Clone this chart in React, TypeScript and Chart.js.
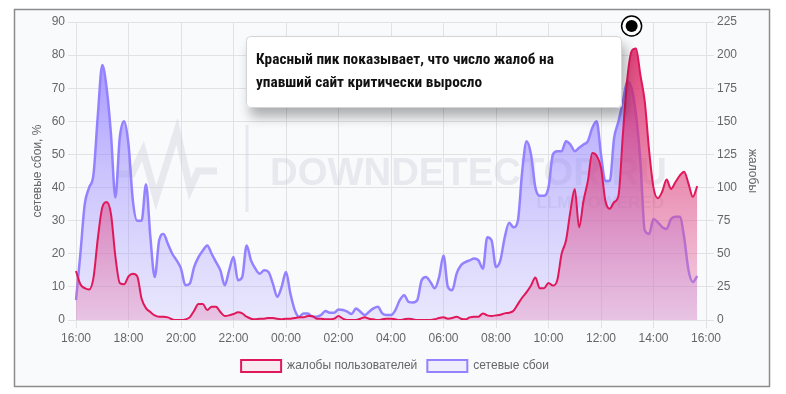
import React, { useEffect, useRef } from "react";
import { Chart, registerables } from "chart.js";

Chart.register(...registerables);

// ---- categories: 10-minute slots from 16:00 to 16:00 next day ----
const START_HOUR = 16;
const STEP_MIN = 10;
const SLOT_COUNT = 145;
const timeLabels: string[] = [];
for (let i = 0; i < SLOT_COUNT; i++) {
  const m = (START_HOUR * 60 + i * STEP_MIN) % 1440;
  timeLabels.push(
    `${String(Math.floor(m / 60)).padStart(2, "0")}:${String(m % 60).padStart(2, "0")}`
  );
}

// ---- network failures, % (left axis), 16:00 .. 15:40 ----
const networkFailures: (number | null)[] = [
  6, 20, 35, 40, 44, 62, // 16
  77, 70, 56, 37, 55, 60, // 17
  53, 36, 30, 30, 41, 25, // 18
  13, 24, 26, 23, 20, 18, // 19
  15.5, 10.5, 11, 16, 19, 21, // 20
  22.5, 20, 17.5, 15, 10.5, 15, // 21
  19, 12, 13, 22.5, 18, 15.5, // 22
  14, 15, 14.5, 11, 7, 10, // 23
  14.5, 8, 3, 1, 2, 2, // 00
  1, 1, 1.5, 2.7, 2.2, 2.2, // 01
  3.2, 3, 2.5, 1.8, 3.5, 2.5, // 02
  1.5, 2.5, 3.5, 4, 2, 1.5, // 03
  1.5, 3, 6, 7.5, 5.5, 5.3, // 04
  6, 12, 13, 11.5, 9.6, 13, // 05
  19.5, 10, 9, 14, 16.5, 17.5, // 06
  18, 18.6, 18, 15.5, 25, 24, // 07
  16, 18, 25, 29.4, 28, 30, // 08
  45, 54, 50, 40, 37.5, 37.5, // 09
  40, 50, 51, 51, 54, 53, // 10
  51, 52, 53, 54, 58, 60, // 11
  50, 42, 42, 55, 60, 66, // 12
  72, 70, 62, 48, 27, 26, // 13
  30.5, 29.5, 28, 27.5, 30.5, 31.2, // 14
  31.2, 25, 15, 11.5, 13.3, // 15
  null, null,
];

// ---- user complaints (right axis), 16:00 .. 15:40 ----
const userComplaints: (number | null)[] = [
  37, 27, 24, 23, 32, 62, // 16
  85, 89, 80, 48, 28, 27, // 17
  33, 35, 33, 16, 9, 6, // 18
  3.5, 2.5, 2.5, 2, 0.5, 0, // 19
  0, 0.5, 2, 7, 12, 12, // 20
  7.5, 10, 10, 6, 3, 3.5, // 21
  4.5, 5.8, 5, 2.5, 1, 0.5, // 22
  1, 1, 1.5, 1.5, 1, 0.5, // 23
  1, 1, 1.5, 2, 2, 3, // 00
  3, 1, 1, 0.5, 0.5, 1, // 01
  3, 1, 0, 0, 0, 1, // 02
  2, 1, 0.5, 0, 0.5, 1, // 03
  1, 0.5, 0, 0.5, 1, 0.5, // 04
  0, 0, 0, 0, 0.5, 1.5, // 05
  2, 1, 1.5, 2.5, 1, 0.5, // 06
  2, 2.5, 2.5, 5, 3.5, 3, // 07
  3.5, 4, 5, 5.5, 7, 12, // 08
  17, 21, 26, 32, 24, 24, // 09
  28, 26, 30, 50, 60, 82, // 10
  99, 70, 90, 105, 126, 124, // 11
  115, 90, 84, 89, 94, 140, // 12
  182, 203, 205, 185, 165, 128, // 13
  100, 92, 97, 106, 99, 104, // 14
  109, 112, 103, 93, 101, // 15
  null, null,
];

const LEFT_MAX = 90;
const LEFT_STEP = 10;
const RIGHT_MAX = 225;
const RIGHT_STEP = 25;
const TICK_EVERY = 12; // every 2 hours
const PEAK_MARKER_INDEX = 127; // 13:10

const legendNames = ["жалобы пользователей", "сетевые сбои"];
const axisTitleLeft = "сетевые сбои, %";
const axisTitleRight = "жалобы";
const noteLines = [
  "Красный пик показывает, что число жалоб на",
  "упавший сайт критически выросло",
];
const watermarkMain = "DOWNDETECTOR.RU";
const watermarkSub = "LLM POWERED";

const FONT = '"Liberation Sans", Arial, Helvetica, sans-serif';
const TEXT_GRAY = "#666666";
const GRID = "#e2e2e4";

function vGradient(chart: any, stops: [number, string][]) {
  const { ctx, chartArea } = chart;
  if (!chartArea) return stops[stops.length - 1][1];
  const g = ctx.createLinearGradient(0, chartArea.top, 0, chartArea.bottom);
  stops.forEach(([o, c]) => g.addColorStop(o, c));
  return g;
}

const framePlugin = {
  id: "frame",
  beforeDraw(chart: any) {
    const { ctx, width, height } = chart;
    ctx.save();
    ctx.fillStyle = "#ffffff";
    ctx.fillRect(0, 0, width, height);
    ctx.fillStyle = "#f9fafc";
    ctx.fillRect(14, 9, 756, 378);
    ctx.strokeStyle = "#8c8c8c";
    ctx.lineWidth = 1.5;
    ctx.strokeRect(14.5, 9.5, 755, 377);
    ctx.restore();
  },
};

const watermarkPlugin = {
  id: "watermark",
  beforeDatasetsDraw(chart: any) {
    const { ctx } = chart;
    ctx.save();
    const col = "rgba(200,202,214,0.36)";
    ctx.strokeStyle = col;
    ctx.fillStyle = col;
    ctx.lineWidth = 7;
    ctx.lineJoin = "miter";
    ctx.beginPath();
    const pts = [
      [116, 174],
      [132, 174],
      [143, 151],
      [156, 198],
      [177, 131],
      [190, 189],
      [198, 171],
      [217, 171],
    ];
    pts.forEach(([x, y], i) => (i ? ctx.lineTo(x, y) : ctx.moveTo(x, y)));
    ctx.stroke();
    ctx.fillRect(245.5, 125, 3, 87);
    ctx.font = `bold 38px ${FONT}`;
    const w = ctx.measureText(watermarkMain).width;
    const size = (38 * 397) / w;
    ctx.font = `bold ${size}px ${FONT}`;
    ctx.textBaseline = "alphabetic";
    ctx.textAlign = "left";
    ctx.fillText(watermarkMain, 270, 185);
    ctx.font = `bold 17px ${FONT}`;
    ctx.textAlign = "right";
    ctx.fillText(watermarkSub, 664, 208);
    ctx.restore();
  },
};

const notePlugin = {
  id: "note",
  afterDraw(chart: any) {
    const { ctx } = chart;
    const xs = chart.scales.x;
    ctx.save();
    const bx = 246,
      by = 36,
      bw = 376,
      bh = 72;
    ctx.shadowColor = "rgba(0,0,0,0.3)";
    ctx.shadowBlur = 12;
    ctx.shadowOffsetX = 4;
    ctx.shadowOffsetY = 9;
    ctx.fillStyle = "#ffffff";
    ctx.beginPath();
    ctx.roundRect(bx, by, bw, bh, 4);
    ctx.fill();
    ctx.shadowColor = "transparent";
    ctx.strokeStyle = "#d4d4d4";
    ctx.lineWidth = 1;
    ctx.beginPath();
    ctx.roundRect(bx + 0.5, by + 0.5, bw - 1, bh - 1, 4);
    ctx.stroke();
    ctx.fillStyle = "#111111";
    ctx.font = `bold 15.3px "Liberation Sans Narrow", "Roboto Condensed", "Noto Sans", sans-serif`;
    ctx.textBaseline = "alphabetic";
    ctx.textAlign = "left";
    ctx.fillText(noteLines[0], 256, 64);
    ctx.fillText(noteLines[1], 256, 87);
    const mx = xs.getPixelForValue(PEAK_MARKER_INDEX);
    const my = chart.chartArea.top + 4;
    ctx.beginPath();
    ctx.arc(mx, my, 10, 0, Math.PI * 2);
    ctx.fillStyle = "#ffffff";
    ctx.fill();
    ctx.lineWidth = 1.5;
    ctx.strokeStyle = "#000000";
    ctx.stroke();
    ctx.beginPath();
    ctx.arc(mx, my, 6, 0, Math.PI * 2);
    ctx.fillStyle = "#000000";
    ctx.fill();
    ctx.restore();
  },
};

export default function App() {
  const ref = useRef<HTMLCanvasElement | null>(null);

  useEffect(() => {
    if (!ref.current) return;
    Chart.defaults.font.family = FONT;
    Chart.defaults.font.size = 12;
    Chart.defaults.color = TEXT_GRAY;
    const chart = new Chart(ref.current, {
      type: "line",
      data: {
        labels: timeLabels,
        datasets: [
          {
            label: legendNames[0],
            data: userComplaints,
            yAxisID: "y1",
            borderColor: "#e0185a",
            borderWidth: 2,
            fill: "origin",
            backgroundColor: (c: any) =>
              vGradient(c.chart, [
                [0, "rgba(218,20,88,0.88)"],
                [0.5, "rgba(222,60,120,0.6)"],
                [1, "rgba(230,120,175,0.32)"],
              ]),
            pointRadius: 0,
            tension: 0.4,
            cubicInterpolationMode: "monotone",
          },
          {
            label: legendNames[1],
            data: networkFailures,
            yAxisID: "y",
            borderColor: "#9282ff",
            borderWidth: 2.5,
            fill: "origin",
            backgroundColor: (c: any) =>
              vGradient(c.chart, [
                [0, "rgba(128,108,255,0.8)"],
                [0.5, "rgba(145,128,255,0.45)"],
                [1, "rgba(165,155,255,0.2)"],
              ]),
            pointRadius: 0,
            tension: 0.4,
            cubicInterpolationMode: "monotone",
          },
        ],
      },
      options: {
        responsive: false,
        animation: false,
        events: [],
        layout: { padding: { left: 26, right: 22, top: 22, bottom: 12 } },
        scales: {
          x: {
            type: "category",
            grid: { color: GRID, tickLength: 8 },
            border: { color: GRID },
            ticks: {
              autoSkip: false,
              maxRotation: 0,
              padding: 3,
              color: TEXT_GRAY,
              font: { size: 12 },
              callback: function (this: any, value: any, index: number) {
                return index % TICK_EVERY === 0 ? this.getLabelForValue(value) : null;
              },
            },
            afterFit: (s: any) => {
              s.height = 30;
            },
          },
          y: {
            position: "left",
            min: 0,
            max: LEFT_MAX,
            ticks: { stepSize: LEFT_STEP, padding: 3, color: TEXT_GRAY, font: { size: 12 } },
            grid: { color: GRID, tickLength: 8 },
            border: { color: GRID },
            title: { display: true, text: axisTitleLeft, color: TEXT_GRAY, font: { size: 12 } },
            afterFit: (s: any) => {
              s.width = 50;
            },
          },
          y1: {
            position: "right",
            min: 0,
            max: RIGHT_MAX,
            ticks: { stepSize: RIGHT_STEP, padding: 3, color: TEXT_GRAY, font: { size: 12 } },
            grid: { drawOnChartArea: false, color: GRID, tickLength: 8 },
            border: { color: GRID },
            title: { display: true, text: axisTitleRight, color: TEXT_GRAY, font: { size: 12 } },
            afterFit: (s: any) => {
              s.width = 58;
            },
          },
        },
        plugins: {
          tooltip: { enabled: false },
          legend: {
            position: "bottom",
            labels: {
              color: TEXT_GRAY,
              font: { size: 12 },
              boxWidth: 40,
              padding: 10,
              generateLabels: (chart: any) => {
                const items = Chart.defaults.plugins.legend.labels.generateLabels(chart);
                const fills = ["rgba(232,30,95,0.07)", "rgba(146,130,255,0.1)"];
                items.forEach((it: any, i: number) => {
                  it.fillStyle = fills[i];
                  it.lineWidth = 2;
                });
                return items;
              },
            },
          },
        },
      },
      plugins: [framePlugin, watermarkPlugin, notePlugin],
    } as any);
    return () => chart.destroy();
  }, []);

  return (
    <div style={{ position: "absolute", left: 0, top: 0, width: 786, height: 394 }}>
      <canvas ref={ref} width={786} height={394} style={{ display: "block" }} />
    </div>
  );
}
